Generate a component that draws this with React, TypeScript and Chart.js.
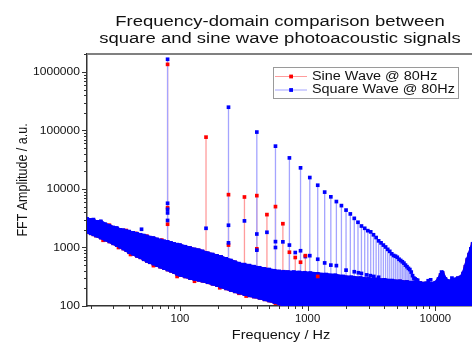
import React, { useEffect, useRef } from 'react';
import { Chart, registerables } from 'chart.js';

Chart.register(...registerables);

// ---------- text ----------
const titleLines = ['Frequency-domain comparison between', 'square and sine wave photoacoustic signals'];
const xTitle = 'Frequency / Hz';
const yTitle = 'FFT Amplitude / a.u.';
const seriesNames = ['Sine Wave @ 80Hz', 'Square Wave @ 80Hz'];

// ---------- axes ----------
const xMin = 18.7;
const xMax = 22000;
const yMin = 100;
const yMax = 2030000;
const xTickValues = [100, 1000, 10000];
const xTickLabels = ['100', '1000', '10000'];
const yTickValues = [100, 1000, 10000, 100000, 1000000];
const yTickLabels = ['100', '1000', '10000', '100000', '1000000'];

// ---------- harmonic peaks ----------
const sinePeakFreq = [80, 160, 240, 320, 400, 480, 560, 640, 720, 800, 880, 960];
const sinePeakAmp = [1350000, 77000, 8000, 7300, 7700, 3650, 5000, 2550, 830, 675, 560, 725];

const squarePeakFreq = [80, 240, 400, 560, 720, 880, 1040, 1200, 1360, 1520, 1680, 1840, 2000, 2160, 2320, 2480, 2640, 2800, 2960, 3120, 3280, 3440, 3600, 3760, 3920, 4080, 4240, 4400, 4560, 4720, 4880, 5040, 5200, 5360, 5520, 5680, 5840, 6000, 6160, 6320, 6480, 6640, 6800, 6960, 7120, 7280];
const squarePeakAmp = [1650000, 250000, 94000, 54000, 34000, 23000, 15700, 11600, 8850, 7350, 6100, 5200, 4360, 3750, 3150, 2700, 2330, 2130, 1940, 1850, 1650, 1480, 1300, 1200, 1100, 1020, 930, 860, 780, 730, 710, 680, 630, 600, 570, 540, 500, 470, 440, 420, 380, 330, 300, 290, 280, 275];

// secondary (lower) points along the stems
const sineLowFreq = [80, 80, 240, 400, 1200];
const sineLowAmp = [4800, 2500, 1100, 950, 320];
const squareLowFreq = [50, 80, 80, 80, 80, 160, 240, 240, 320, 400, 400, 480, 560, 560, 640, 720, 800, 880, 960, 1040, 1200, 1360, 1520, 1680, 2000, 2320, 2500, 2640, 2900, 3100, 3300, 3600, 8800, 9200, 11200, 13500];
const squareLowAmp = [2050, 5700, 4500, 3900, 2900, 2130, 2400, 1200, 2850, 1700, 900, 1820, 1260, 1000, 1250, 1100, 820, 880, 700, 725, 630, 545, 500, 490, 410, 385, 370, 360, 340, 330, 320, 310, 270, 280, 380, 300];

// ---------- noise floor envelopes ----------
const floorFreq = [18.7, 20, 21, 22, 24, 26, 28, 30, 32, 34, 36, 38, 40, 43, 46, 49, 52, 55, 58, 62, 66, 70, 75, 80, 85, 90, 95, 100, 110, 120, 130, 140, 150, 165, 180, 195, 210, 230, 250, 270, 290, 320, 350, 380, 420, 460, 500, 550, 600, 650, 700, 780, 860, 950, 1050, 1200, 1400, 1650, 1900, 2200, 2600, 3000, 3500, 4000, 4600, 5300, 6000, 6800, 7600, 8500, 9300, 10000, 10600, 11000, 11400, 12000, 12800, 13500, 14200, 15000, 15800, 16500, 17200, 17800, 18400, 19000, 19600, 20500, 22000];
const squareFloorHigh = [3100, 2950, 3000, 2750, 2800, 2500, 2350, 2200, 2150, 2000, 1980, 1900, 1870, 1780, 1720, 1650, 1600, 1540, 1480, 1450, 1380, 1320, 1280, 1250, 1200, 1150, 1120, 1100, 1030, 980, 930, 900, 860, 800, 760, 720, 690, 640, 600, 560, 530, 510, 490, 470, 450, 430, 420, 400, 390, 385, 380, 380, 375, 370, 365, 355, 345, 335, 320, 310, 300, 290, 285, 280, 272, 265, 258, 252, 248, 245, 240, 250, 290, 340, 370, 290, 265, 270, 285, 300, 310, 360, 470, 620, 760, 950, 1150, 1500, 1800];
const squareFloorLow = [1850, 1750, 1680, 1600, 1480, 1360, 1270, 1180, 1100, 1030, 960, 900, 830, 780, 720, 680, 630, 590, 560, 530, 500, 470, 445, 420, 400, 380, 355, 340, 320, 300, 290, 280, 270, 255, 240, 228, 215, 200, 188, 178, 170, 160, 152, 145, 138, 130, 124, 117, 110, 102, 95, 90, 90, 90, 90, 90, 90, 90, 90, 90, 90, 90, 90, 90, 90, 90, 90, 90, 90, 90, 90, 90, 90, 90, 90, 90, 90, 90, 90, 90, 90, 90, 90, 90, 90, 90, 90, 90, 90];
const sineFloorHigh = [3000, 2900, 2900, 2700, 2700, 2450, 2400, 2150, 2100, 2000, 1950, 1950, 1800, 1760, 1700, 1620, 1580, 1560, 1460, 1420, 1360, 1300, 1260, 1230, 1180, 1140, 1100, 1080, 1020, 970, 920, 890, 850, 790, 750, 710, 680, 630, 590, 555, 520, 500, 480, 460, 440, 425, 410, 395, 385, 380, 375, 370, 365, 360, 355, 345, 335, 325, 315, 305, 295, 288, 282, 276, 268, 262, 255, 250, 246, 242, 238, 245, 280, 330, 360, 285, 260, 265, 280, 295, 305, 350, 460, 600, 740, 930, 1120, 1450, 1750];
const sineFloorLow = [1850, 1750, 1680, 1600, 1480, 1360, 1270, 1180, 1100, 1030, 960, 900, 830, 780, 720, 680, 630, 590, 560, 530, 500, 470, 445, 420, 400, 380, 355, 340, 320, 300, 290, 280, 270, 255, 240, 228, 215, 200, 188, 178, 170, 160, 152, 145, 138, 130, 124, 117, 110, 102, 95, 90, 90, 90, 90, 90, 90, 90, 90, 90, 90, 90, 90, 90, 90, 90, 90, 90, 90, 90, 90, 90, 90, 90, 90, 90, 90, 90, 90, 90, 90, 90, 90, 90, 90, 90, 90, 90, 90];

// scattered red points peeking out of the floor band
const sineEdgeFreq = [25, 33, 41, 45, 62, 72, 95, 130, 205, 290, 330, 560];
const sineEdgeAmp = [1330, 1000, 760, 1740, 490, 1340, 320, 265, 205, 165, 148, 112];

// ---------- colours ----------
const BLUE = '#0000ff';
const RED = '#ff0000';
const BLUE_STEM = '#a4a4ff';
const RED_STEM = '#ff9c9c';
const FONT = '"Liberation Sans", Arial, Helvetica, sans-serif';

function floorMidAt(f: number): number {
  let best = 0;
  for (let i = 1; i < floorFreq.length; i++) {
    if (Math.abs(Math.log(floorFreq[i] / f)) < Math.abs(Math.log(floorFreq[best] / f))) best = i;
  }
  return Math.sqrt(squareFloorHigh[best] * squareFloorLow[best]);
}

function stems(freqs: number[], amps: number[]) {
  const out: { x: number; y: number | null }[] = [];
  freqs.forEach((f, i) => {
    out.push({ x: f, y: floorMidAt(f) });
    out.push({ x: f, y: amps[i] });
    out.push({ x: f, y: null });
  });
  return out;
}
function pts(freqs: number[], amps: number[]) {
  return freqs.map((f, i) => ({ x: f, y: amps[i] }));
}

function drawText(ctx: CanvasRenderingContext2D, text: string, x: number, y: number, size: number, sx: number, align: CanvasTextAlign, baseline: CanvasTextBaseline = 'alphabetic') {
  ctx.save();
  ctx.font = `${size}px ${FONT}`;
  ctx.fillStyle = '#111';
  ctx.textAlign = align;
  ctx.textBaseline = baseline;
  ctx.translate(x, y);
  ctx.scale(sx, 1);
  ctx.fillText(text, 0, 0);
  ctx.restore();
}

function logTicks(min: number, max: number) {
  const res: { v: number; major: boolean }[] = [];
  for (let e = Math.floor(Math.log10(min)); e <= Math.ceil(Math.log10(max)); e++) {
    for (let m = 1; m <= 9; m++) {
      const v = m * Math.pow(10, e);
      if (v >= min * 0.9999 && v <= max * 1.0001) res.push({ v, major: m === 1 });
    }
  }
  return res;
}

const decorPlugin = {
  id: 'decor',
  afterDraw(chart: any) {
    const { ctx, chartArea: ca } = chart;
    const xs = chart.scales.x;
    const ys = chart.scales.y;
    ctx.save();
    ctx.strokeStyle = '#808080';
    ctx.lineWidth = 2;
    ctx.beginPath();
    ctx.moveTo(ca.left, ca.top);
    ctx.lineTo(ca.right, ca.top);
    ctx.lineTo(ca.right, ca.bottom);
    ctx.stroke();
    ctx.strokeStyle = '#333';
    ctx.lineWidth = 1;
    for (const t of logTicks(xs.min, xs.max)) {
      const px = Math.round(xs.getPixelForValue(t.v)) + 0.5;
      ctx.beginPath();
      ctx.moveTo(px, ca.bottom);
      ctx.lineTo(px, ca.bottom + (t.major ? 5 : 3));
      ctx.stroke();
    }
    for (const t of logTicks(ys.min, ys.max)) {
      const py = Math.round(ys.getPixelForValue(t.v)) + 0.5;
      ctx.beginPath();
      ctx.moveTo(ca.left, py);
      ctx.lineTo(ca.left - (t.major ? 5 : 3), py);
      ctx.stroke();
    }
    ctx.restore();
    xTickValues.forEach((v, i) => drawText(ctx, xTickLabels[i], xs.getPixelForValue(v), ca.bottom + 15.5, 10.5, 1.08, 'center'));
    yTickValues.forEach((v, i) => drawText(ctx, yTickLabels[i], ca.left - 7, ys.getPixelForValue(v) + 0.5, 10.5, 1.15, 'right', 'middle'));
    drawText(ctx, titleLines[0], 280, 25.5, 15.4, 1.2, 'center');
    drawText(ctx, titleLines[1], 280, 42.5, 15.4, 1.2, 'center');
    drawText(ctx, xTitle, 281, 339, 12.2, 1.19, 'center');
    ctx.save();
    ctx.font = `15px ${FONT}`;
    ctx.fillStyle = '#111';
    ctx.textAlign = 'center';
    ctx.textBaseline = 'alphabetic';
    ctx.translate(26.5, (ca.top + ca.bottom) / 2);
    ctx.rotate(-Math.PI / 2);
    ctx.scale(1 / 1.2, 1);
    ctx.fillText(yTitle, 0, 0);
    ctx.restore();
    ctx.save();
    ctx.fillStyle = '#fff';
    ctx.fillRect(273.5, 67.5, 185, 31);
    ctx.strokeStyle = '#9a9a9a';
    ctx.lineWidth = 1;
    ctx.strokeRect(273.5, 67.5, 185, 31);
    const rows = [76, 89.5];
    const lineCols = [RED_STEM, BLUE_STEM];
    const markCols = [RED, BLUE];
    rows.forEach((ry, i) => {
      ctx.strokeStyle = lineCols[i];
      ctx.beginPath();
      ctx.moveTo(275, ry + 0.5);
      ctx.lineTo(307, ry + 0.5);
      ctx.stroke();
      ctx.fillStyle = markCols[i];
      ctx.fillRect(289.2, ry - 1.4, 3.8, 3.8);
      drawText(ctx, seriesNames[i], 312, ry + 0.5, 12, 1.2, 'left', 'middle');
    });
    ctx.restore();
  },
};

export default function App() {
  const ref = useRef<HTMLCanvasElement>(null);
  useEffect(() => {
    const canvas = ref.current;
    if (!canvas) return;
    const marker = (color: string, order: number, data: any[], label: string) => ({
      label,
      data,
      order,
      showLine: false,
      pointStyle: 'rect',
      pointRadius: 2.6,
      pointBorderWidth: 0,
      pointBackgroundColor: color,
      pointBorderColor: color,
      borderColor: color,
      backgroundColor: color,
    });
    const stemSet = (color: string, order: number, data: any[], label: string) => ({
      label,
      data,
      order,
      showLine: true,
      spanGaps: false,
      borderColor: color,
      borderWidth: 1.3,
      pointRadius: 0,
      tension: 0,
      fill: false,
    });
    const floorSet = (color: string, order: number, data: any[], label: string, fill: any) => ({
      label,
      data,
      order,
      showLine: true,
      borderColor: color,
      backgroundColor: color,
      borderWidth: 3,
      pointStyle: 'rect',
      pointRadius: 2.6,
      pointBorderWidth: 0,
      pointBackgroundColor: color,
      tension: 0,
      fill,
    });
    const datasets: any[] = [
      stemSet(RED_STEM, 20, stems(sinePeakFreq, sinePeakAmp), 'sine stems'), // 0
      stemSet(BLUE_STEM, 19, stems(squarePeakFreq, squarePeakAmp), 'square stems'), // 1
      floorSet(RED, 18, pts(floorFreq, sineFloorLow), 'sine floor low', false), // 2
      floorSet(RED, 17, pts(floorFreq, sineFloorHigh), 'sine floor high', 2), // 3
      marker(RED, 16.5, pts(sineEdgeFreq, sineEdgeAmp), 'sine edge'), // 4
      floorSet(BLUE, 16, pts(floorFreq, squareFloorLow), 'square floor low', false), // 5
      floorSet(BLUE, 15, pts(floorFreq, squareFloorHigh), 'square floor high', 5), // 6
      marker(RED, 4, pts(sineLowFreq, sineLowAmp), 'sine low'),
      marker(BLUE, 3, pts(squareLowFreq, squareLowAmp), 'square low'),
      marker(RED, 1, pts(sinePeakFreq, sinePeakAmp), seriesNames[0]),
      marker(BLUE, 0, pts(squarePeakFreq, squarePeakAmp), seriesNames[1]),
    ];
    const chart = new Chart(canvas, {
      type: 'line',
      data: { datasets },
      options: {
        animation: false,
        responsive: false,
        devicePixelRatio: 1,
        events: [],
        layout: { padding: { left: 0, right: 11, top: 54, bottom: 0 } },
        plugins: {
          legend: { display: false },
          title: { display: false },
          tooltip: { enabled: false },
        },
        scales: {
          x: {
            type: 'logarithmic',
            min: xMin,
            max: xMax,
            grid: { display: false },
            ticks: { display: false },
            border: { display: true, color: '#333', width: 1.5 },
            afterFit: (s: any) => { s.height = 39; },
          },
          y: {
            type: 'logarithmic',
            min: yMin,
            max: yMax,
            grid: { display: false },
            ticks: { display: false },
            border: { display: true, color: '#333', width: 1.5 },
            afterFit: (s: any) => { s.width = 87; },
          },
        },
      } as any,
      plugins: [decorPlugin],
    });
    return () => chart.destroy();
  }, []);
  return (
    <div style={{ position: 'fixed', left: 0, top: 0, width: 472, height: 345, overflow: 'hidden', background: '#fff' }}>
      <canvas ref={ref} width={490} height={345} style={{ display: 'block', width: 490, height: 345 }} />
    </div>
  );
}
